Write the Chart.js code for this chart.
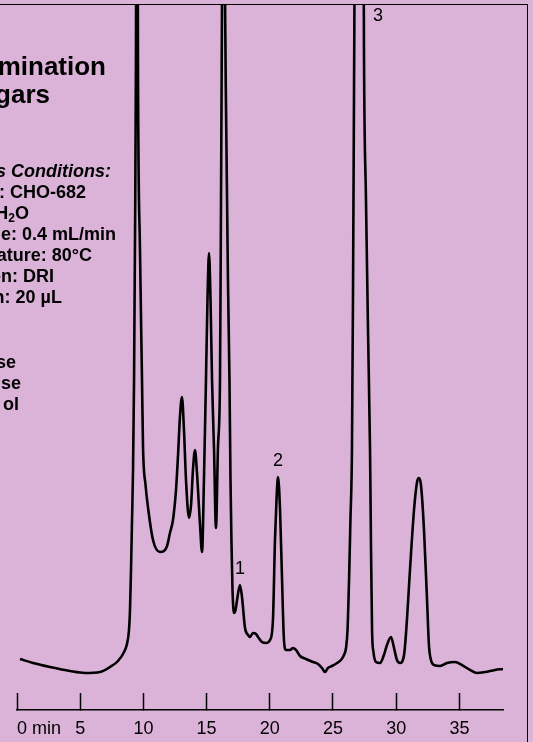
<!DOCTYPE html>
<html>
<head>
<meta charset="utf-8">
<script src="https://cdn.jsdelivr.net/npm/chart.js@4.4.1/dist/chart.umd.min.js"></script>
<style>
  html, body { margin: 0; padding: 0; background: #dbb3d8; }
  #wrap { position: relative; width: 533px; height: 742px; overflow: hidden; background: #dbb3d8; }
  #chart { position: absolute; left: 0; top: 0; }
  #frame { position: absolute; box-sizing: border-box; left: -5px; top: 4px; width: 533px; height: 800px;
           border-top: 1.5px solid #000; border-right: 1.5px solid #000; pointer-events: none; }
  .t { position: absolute; white-space: nowrap; text-align: right; line-height: 1;
       font-family: "Liberation Sans", Arial, Helvetica, sans-serif; font-weight: bold; color: #000; }
  .title { font-size: 26px; }
  .cond { font-size: 18px; }
  .cond sub { font-size: 12px; vertical-align: -3px; line-height: 0; }
  .ital { font-style: italic; }
</style>
</head>
<body>
<div id="wrap">
  <canvas id="chart" width="533" height="742"></canvas>
  <div id="frame"></div>

  <!-- left-hand text block, cut off at the left edge in the original -->
  <div class="t title" style="right:427px; top:53px;">mination</div>
  <div class="t title" style="right:483px; top:81px;">gars</div>
  <div class="t cond ital" style="right:422px; top:162px;">s Conditions:</div>
  <div class="t cond" style="right:447px; top:183px;">: CHO-682</div>
  <div class="t cond" style="right:504px; top:204px;">H<sub>2</sub>O</div>
  <div class="t cond" style="right:417px; top:225px;">e: 0.4 mL/min</div>
  <div class="t cond" style="right:441px; top:246px;">ature: 80°C</div>
  <div class="t cond" style="right:479px; top:267px;">on: DRI</div>
  <div class="t cond" style="right:471px; top:288px;">n: 20 µL</div>
  <div class="t cond" style="right:517px; top:353px;">se</div>
  <div class="t cond" style="right:512px; top:374px;">se</div>
  <div class="t cond" style="right:514px; top:395px;">ol</div>
</div>

<script>
// Retention time (min) and detector signal (arbitrary units, 100 = top of frame)
const retentionTime = [
    0.24, 1.27, 2.61, 4.19, 5.38, 6.57, 7.36, 7.99, 8.47, 8.70,
    8.86, 8.94, 9.02, 9.10, 9.18, 9.26, 9.34, 9.41, 9.49, 9.57,
    9.73, 9.89, 9.97, 10.17, 10.36, 10.76, 11.31, 11.63, 11.87, 12.10,
    12.34, 12.58, 12.74, 12.90, 13.05, 13.21, 13.37, 13.61, 13.77, 13.92,
    14.08, 14.24, 14.48, 14.64, 14.79, 14.95, 15.07, 15.19, 15.31, 15.43,
    15.59, 15.74, 15.90, 16.06, 16.14, 16.22, 16.34, 16.46, 16.53, 16.69,
    16.81, 16.89, 16.97, 17.05, 17.17, 17.29, 17.41, 17.64, 17.80, 18.04,
    18.28, 18.43, 18.67, 18.91, 19.07, 19.38, 19.70, 20.02, 20.25, 20.41,
    20.53, 20.65, 20.81, 20.97, 21.12, 21.28, 21.60, 21.84, 22.07, 22.39,
    22.86, 23.42, 23.81, 24.13, 24.37, 24.60, 24.92, 25.32, 25.63, 25.87,
    26.03, 26.15, 26.27, 26.38, 26.50, 26.58, 26.66, 26.74, 27.06, 27.41,
    27.45, 27.61, 27.77, 27.93, 28.01, 28.09, 28.20, 28.40, 28.72, 29.03,
    29.27, 29.59, 29.83, 30.06, 30.30, 30.62, 30.85, 31.09, 31.41, 31.65,
    31.80, 31.96, 32.20, 32.44, 32.59, 32.75, 32.99, 33.47, 34.02, 34.65,
    35.21, 35.84, 36.39, 37.03, 37.82, 38.45
];
const signal = [
    7.22, 6.66, 6.09, 5.52, 5.24, 5.38, 6.09, 6.94, 8.22, 9.35,
    11.33, 14.16, 19.83, 26.91, 33.99, 46.74, 67.99, 92.07, 157.2, 92.07,
    65.16, 46.74, 37.25, 31.87, 28.75, 24.08, 22.38, 22.52, 23.23, 25.07,
    26.91, 31.16, 36.12, 41.78, 44.33, 39.66, 32.58, 27.20, 29.04, 33.99,
    36.83, 33.57, 26.20, 22.38, 32.58, 46.74, 58.07, 64.73, 58.07, 46.74,
    36.83, 25.78, 37.25, 46.74, 72.24, 100.57, 157.2, 100.57, 86.40, 60.91,
    46.74, 32.58, 23.65, 17.00, 13.74, 14.16, 15.58, 17.71, 16.01, 11.61,
    10.62, 10.34, 10.91, 10.76, 10.34, 9.63, 9.49, 9.92, 12.75, 24.08,
    29.75, 33.00, 28.33, 18.41, 9.92, 8.50, 8.50, 8.78, 8.50, 7.65,
    7.22, 6.80, 6.52, 5.95, 5.38, 5.95, 6.23, 6.66, 7.08, 7.79,
    8.78, 11.33, 18.41, 26.91, 36.83, 58.07, 86.40, 114.7, 171.4, 114.7,
    93.48, 72.24, 53.82, 36.83, 22.66, 11.33, 8.22, 6.80, 6.66, 7.79,
    9.21, 10.34, 8.78, 7.08, 6.66, 7.79, 12.75, 19.83, 28.33, 32.29,
    32.86, 31.87, 25.50, 15.58, 9.21, 7.08, 6.37, 6.23, 6.66, 6.80,
    6.37, 5.67, 5.24, 5.38, 5.67, 5.81
];

// Axis ticks
const tickValues = [0, 5, 10, 15, 20, 25, 30, 35];
const tickLabels = ['0 min', '5', '10', '15', '20', '25', '30', '35'];
const xMax = 38.45;

// Numbered peaks
const peakNames = ['1', '2', '3'];
const peakTimes = [17.64, 20.65, 27.06];

const FONT = '"Liberation Sans", Arial, Helvetica, sans-serif';

/**
 * Draw the peak numbers just above each peak (or at the top if off scale)
 */
const peakLabelPlugin = {
    id: 'peakLabels',
    afterDatasetsDraw(chart) {
        const { ctx, chartArea, scales: { x, y } } = chart;
        ctx.save();
        ctx.font = '18px ' + FONT;
        ctx.fillStyle = '#000';
        ctx.textAlign = 'center';
        peakNames.forEach((name, i) => {
            const idx = retentionTime.indexOf(peakTimes[i]);
            const value = signal[idx];
            const px = x.getPixelForValue(peakTimes[i]);
            if (value > y.max) {
                ctx.textBaseline = 'top';
                ctx.fillText(name, px + 19, chartArea.top + 3);
            } else {
                ctx.textBaseline = 'bottom';
                ctx.fillText(name, px, y.getPixelForValue(value) - 7);
            }
        });
        ctx.restore();
    }
};

const ctx = document.getElementById('chart').getContext('2d');
const chromatogram = new Chart(ctx, {
    type: 'line',
    data: {
        datasets: [{
            data: retentionTime.map((t, i) => ({ x: t, y: signal[i] })),
            borderColor: '#000',
            borderWidth: 2.6,
            pointRadius: 0,
            fill: false,
            cubicInterpolationMode: 'monotone',
            clip: 0
        }]
    },
    options: {
        responsive: false,
        animation: false,
        layout: { padding: { left: 17, right: 30, top: 4, bottom: 2 } },
        plugins: { legend: { display: false }, tooltip: { enabled: false } },
        scales: {
            x: {
                type: 'linear',
                min: 0,
                max: xMax,
                afterBuildTicks: scale => {
                    scale.ticks = tickValues.map(v => ({ value: v })).concat([{ value: xMax }]);
                },
                // keep the plot box where the original has it
                afterFit: scale => {
                    scale.height = 30;
                    scale.paddingLeft = 0;
                    scale.paddingRight = 0;
                },
                ticks: {
                    align: 'inner',
                    autoSkip: false,
                    maxRotation: 0,
                    padding: 25,
                    color: '#000',
                    font: { family: FONT, size: 18 },
                    callback: (v, i) => tickLabels[i] !== undefined ? tickLabels[i] : ''
                },
                grid: {
                    display: true,
                    drawOnChartArea: false,
                    drawTicks: true,
                    tickLength: -17,
                    tickWidth: 1.5,
                    tickColor: c => c.index < tickValues.length ? '#000' : 'rgba(0,0,0,0)'
                },
                border: { display: true, color: '#000', width: 1.5 }
            },
            y: {
                display: false,
                min: 0,
                max: 100
            }
        }
    },
    plugins: [peakLabelPlugin]
});
</script>
</body>
</html>
